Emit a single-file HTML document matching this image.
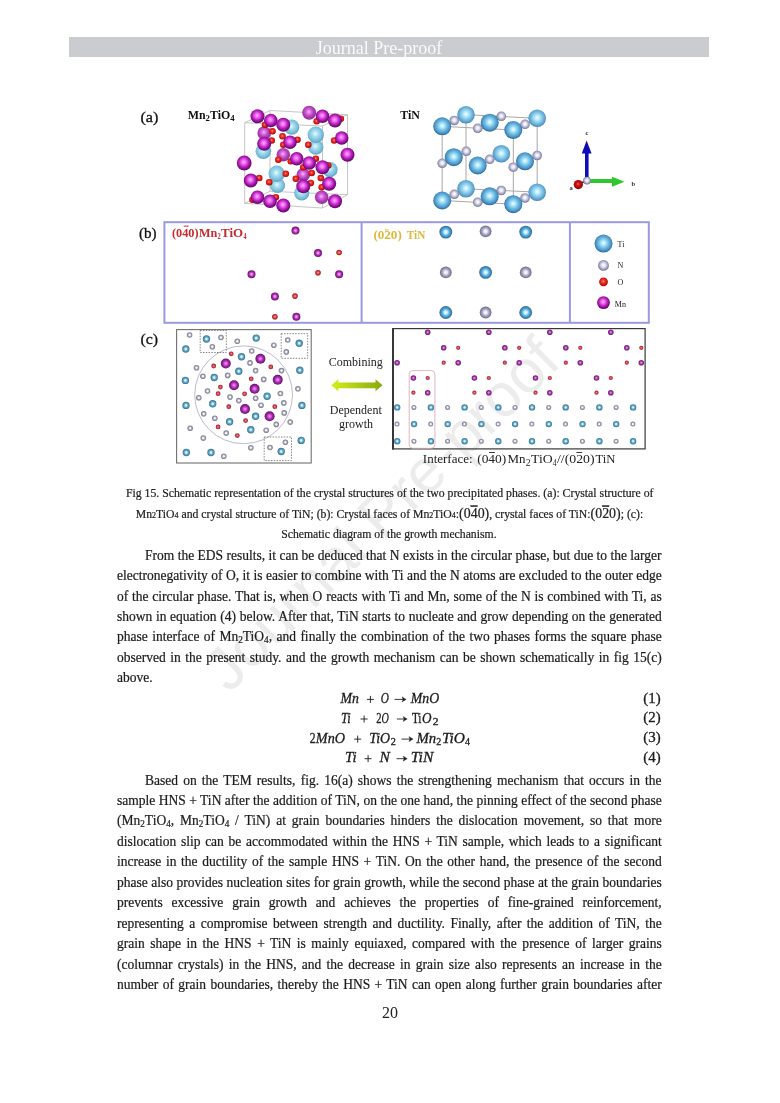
<!DOCTYPE html>
<html><head><meta charset="utf-8"><style>
*{margin:0;padding:0;box-sizing:border-box}
html,body{width:780px;height:1103px;background:#fff;overflow:hidden}
body{position:relative;-webkit-font-smoothing:antialiased;font-family:"Liberation Serif",serif;color:#1a1a1a}
.hdr{position:absolute;left:69px;top:37px;width:640px;height:20px;background:#cbcccf}
.hdr span{position:absolute;left:-20px;right:0;top:0.7px;text-align:center;font-size:18px;line-height:20px;color:#fafafa}
.l{position:absolute;transform:scaleX(0.952);transform-origin:0 0;font-size:14.2px;line-height:20px;height:20px;white-space:nowrap;letter-spacing:0px;color:#1c1c1c;-webkit-text-stroke:0.22px #1c1c1c}
sub{font-size:0.68em;vertical-align:-0.22em;line-height:0}
.wm{position:absolute;left:0;top:0;font-size:67px;line-height:67px;color:#ececec;white-space:nowrap;transform-origin:0 0}
#pg{position:absolute;left:0;top:0;width:780px;height:1103px;will-change:transform;background:#fff}
</style></head><body><div id="pg">
<svg style="position:absolute;left:0;top:0" width="780" height="1103"><text x="229" y="694" transform="rotate(-44.7 229 694)" font-family="Liberation Sans" font-size="60.8" fill="#ececec">Journal Pre-proof</text></svg>
<div class="hdr"><span>Journal Pre-proof</span></div>
<svg style="position:absolute;left:0;top:0" width="780" height="480" viewBox="0 0 780 480" font-family="Liberation Serif"><defs><radialGradient id="gMn" cx="47%" cy="44%" r="58%" fx="47%" fy="44%"><stop offset="0" stop-color="#ffb0ff"/><stop offset="0.28" stop-color="#f064f0"/><stop offset="0.58" stop-color="#b420b8"/><stop offset="0.86" stop-color="#720a7a"/><stop offset="1" stop-color="#500860"/></radialGradient><radialGradient id="gMnL" cx="47%" cy="44%" r="58%" fx="47%" fy="44%"><stop offset="0" stop-color="#ffb8ff"/><stop offset="0.25" stop-color="#e070e4"/><stop offset="0.6" stop-color="#b040b8"/><stop offset="1" stop-color="#883094"/></radialGradient><radialGradient id="gTiA" cx="47%" cy="44%" r="58%" fx="47%" fy="44%"><stop offset="0" stop-color="#e8ffff"/><stop offset="0.3" stop-color="#a8e0f0"/><stop offset="0.75" stop-color="#78bcd8"/><stop offset="1" stop-color="#5a9cbc"/></radialGradient><radialGradient id="gTi" cx="50%" cy="47%" r="53%" fx="50%" fy="47%"><stop offset="0" stop-color="#f0ffff"/><stop offset="0.2" stop-color="#b8ecfa"/><stop offset="0.55" stop-color="#6cb8e0"/><stop offset="0.8" stop-color="#4a94c8"/><stop offset="0.93" stop-color="#3472a6"/><stop offset="1" stop-color="#2a6494"/></radialGradient><radialGradient id="gTiL" cx="50%" cy="47%" r="53%" fx="50%" fy="47%"><stop offset="0" stop-color="#f4ffff"/><stop offset="0.22" stop-color="#c0eefa"/><stop offset="0.6" stop-color="#7cc0e4"/><stop offset="0.85" stop-color="#5aa0cc"/><stop offset="1" stop-color="#4482b0"/></radialGradient><radialGradient id="gO" cx="47%" cy="44%" r="58%" fx="47%" fy="44%"><stop offset="0" stop-color="#ff9a8a"/><stop offset="0.3" stop-color="#f43828"/><stop offset="0.75" stop-color="#cc1010"/><stop offset="1" stop-color="#900404"/></radialGradient><radialGradient id="gN" cx="50%" cy="47%" r="53%" fx="50%" fy="47%"><stop offset="0" stop-color="#ffffff"/><stop offset="0.3" stop-color="#eaeaf6"/><stop offset="0.6" stop-color="#b8b8d2"/><stop offset="0.85" stop-color="#8c8cac"/><stop offset="1" stop-color="#6c6c8e"/></radialGradient><radialGradient id="rMn" cx="50%" cy="50%" r="50%" fx="50%" fy="50%"><stop offset="0" stop-color="#ff98ff"/><stop offset="0.28" stop-color="#dc5ce0"/><stop offset="0.58" stop-color="#a02ca8"/><stop offset="0.85" stop-color="#781a80"/><stop offset="1" stop-color="#5e1266"/></radialGradient><radialGradient id="rO" cx="50%" cy="50%" r="50%" fx="50%" fy="50%"><stop offset="0" stop-color="#f29a9a"/><stop offset="0.35" stop-color="#d85462"/><stop offset="0.7" stop-color="#bc3242"/><stop offset="1" stop-color="#962030"/></radialGradient><radialGradient id="rTi" cx="50%" cy="50%" r="50%" fx="50%" fy="50%"><stop offset="0" stop-color="#eeffff"/><stop offset="0.25" stop-color="#bcedf8"/><stop offset="0.47" stop-color="#74b2ca"/><stop offset="0.8" stop-color="#4a88a8"/><stop offset="1" stop-color="#3a7494"/></radialGradient><radialGradient id="rN" cx="50%" cy="50%" r="50%" fx="50%" fy="50%"><stop offset="0" stop-color="#ffffff"/><stop offset="0.28" stop-color="#f4f4f8"/><stop offset="0.5" stop-color="#b0b0bc"/><stop offset="0.8" stop-color="#8c8c9e"/><stop offset="1" stop-color="#7c7c8e"/></radialGradient><radialGradient id="cMn" cx="50%" cy="50%" r="50%" fx="50%" fy="50%"><stop offset="0" stop-color="#f0a8f0"/><stop offset="0.3" stop-color="#c866cc"/><stop offset="0.6" stop-color="#943098"/><stop offset="1" stop-color="#6c1e74"/></radialGradient><radialGradient id="bMn" cx="50%" cy="50%" r="50%" fx="50%" fy="50%"><stop offset="0" stop-color="#ffc0ff"/><stop offset="0.3" stop-color="#e070e0"/><stop offset="0.6" stop-color="#a828ac"/><stop offset="1" stop-color="#6a1470"/></radialGradient><radialGradient id="bO" cx="50%" cy="50%" r="50%" fx="50%" fy="50%"><stop offset="0" stop-color="#ffb0a8"/><stop offset="0.35" stop-color="#ec5a5a"/><stop offset="0.7" stop-color="#c82a2a"/><stop offset="1" stop-color="#901818"/></radialGradient><radialGradient id="bTi" cx="50%" cy="50%" r="50%" fx="50%" fy="50%"><stop offset="0" stop-color="#ffffff"/><stop offset="0.25" stop-color="#bff0ff"/><stop offset="0.55" stop-color="#5eaedc"/><stop offset="0.85" stop-color="#3a80b0"/><stop offset="1" stop-color="#2c6c98"/></radialGradient><radialGradient id="bN" cx="50%" cy="50%" r="50%" fx="50%" fy="50%"><stop offset="0" stop-color="#ffffff"/><stop offset="0.25" stop-color="#ececf8"/><stop offset="0.55" stop-color="#acacc6"/><stop offset="0.85" stop-color="#80809e"/><stop offset="1" stop-color="#6c6c8a"/></radialGradient><radialGradient id="gOd" cx="47%" cy="44%" r="58%" fx="47%" fy="44%"><stop offset="0" stop-color="#f06060"/><stop offset="0.3" stop-color="#d01818"/><stop offset="0.75" stop-color="#a80404"/><stop offset="1" stop-color="#700000"/></radialGradient><linearGradient id="gArr" x1="0" y1="0" x2="1" y2="0"><stop offset="0" stop-color="#d4f01a"/><stop offset="1" stop-color="#86a810"/></linearGradient></defs><polygon points="270.0,110.5 347.5,114.7 347.5,194.7 270.0,191.3" stroke="#b8b8b8" stroke-width="0.8" fill="none"/>
<line x1="244.7" y1="122.7" x2="270.0" y2="110.5" stroke="#b8b8b8" stroke-width="0.8" fill="none"/>
<line x1="322.5" y1="126.0" x2="347.5" y2="114.7" stroke="#b8b8b8" stroke-width="0.8" fill="none"/>
<line x1="322.5" y1="208.0" x2="347.5" y2="194.7" stroke="#b8b8b8" stroke-width="0.8" fill="none"/>
<line x1="244.7" y1="203.3" x2="270.0" y2="191.3" stroke="#b8b8b8" stroke-width="0.8" fill="none"/>
<polygon points="244.7,122.7 322.5,126.0 322.5,208.0 244.7,203.3" stroke="#b8b8b8" stroke-width="0.8" fill="none"/>
<circle cx="264.2" cy="133.0" r="6.8" fill="url(#gMnL)" />
<circle cx="283.3" cy="154.7" r="6.8" fill="url(#gMnL)" />
<circle cx="309.2" cy="112.7" r="7.0" fill="url(#gMnL)" />
<circle cx="303.3" cy="174.7" r="6.8" fill="url(#gMnL)" />
<circle cx="321.7" cy="197.2" r="6.8" fill="url(#gMnL)" />
<circle cx="291.7" cy="127.2" r="7.6" fill="url(#gTiA)" />
<circle cx="315.8" cy="147.2" r="7.6" fill="url(#gTiA)" />
<circle cx="315.8" cy="134.7" r="8.2" fill="url(#gTiA)" />
<circle cx="263.3" cy="151.3" r="7.8" fill="url(#gTiA)" />
<circle cx="277.5" cy="185.5" r="7.6" fill="url(#gTiA)" />
<circle cx="276.7" cy="173.8" r="8.2" fill="url(#gTiA)" />
<circle cx="330.0" cy="169.7" r="7.6" fill="url(#gTiA)" />
<circle cx="301.7" cy="193.0" r="7.6" fill="url(#gTiA)" />
<circle cx="265.0" cy="124.7" r="3.3" fill="url(#gO)" />
<circle cx="272.5" cy="131.3" r="3.3" fill="url(#gO)" />
<circle cx="271.7" cy="140.5" r="3.3" fill="url(#gO)" />
<circle cx="282.5" cy="136.3" r="3.3" fill="url(#gO)" />
<circle cx="283.3" cy="144.7" r="3.3" fill="url(#gO)" />
<circle cx="297.5" cy="139.7" r="3.3" fill="url(#gO)" />
<circle cx="308.3" cy="144.7" r="3.3" fill="url(#gO)" />
<circle cx="316.7" cy="121.3" r="3.3" fill="url(#gO)" />
<circle cx="340.8" cy="118.8" r="3.3" fill="url(#gO)" />
<circle cx="334.2" cy="140.5" r="3.3" fill="url(#gO)" />
<circle cx="278.3" cy="159.7" r="3.3" fill="url(#gO)" />
<circle cx="290.8" cy="161.3" r="3.3" fill="url(#gO)" />
<circle cx="303.3" cy="167.2" r="3.3" fill="url(#gO)" />
<circle cx="315.8" cy="158.8" r="3.3" fill="url(#gO)" />
<circle cx="328.3" cy="165.5" r="3.3" fill="url(#gO)" />
<circle cx="259.2" cy="178.0" r="3.3" fill="url(#gO)" />
<circle cx="269.2" cy="182.2" r="3.3" fill="url(#gO)" />
<circle cx="295.8" cy="178.8" r="3.3" fill="url(#gO)" />
<circle cx="310.8" cy="183.0" r="3.3" fill="url(#gO)" />
<circle cx="321.7" cy="187.2" r="3.3" fill="url(#gO)" />
<circle cx="320.8" cy="178.0" r="3.3" fill="url(#gO)" />
<circle cx="252.5" cy="199.7" r="3.3" fill="url(#gO)" />
<circle cx="275.8" cy="197.2" r="3.3" fill="url(#gO)" />
<circle cx="285.8" cy="173.8" r="3.3" fill="url(#gO)" />
<circle cx="311.7" cy="173.0" r="3.3" fill="url(#gO)" />
<circle cx="257.5" cy="116.3" r="7.0" fill="url(#gMn)" />
<circle cx="270.8" cy="120.5" r="6.8" fill="url(#gMn)" />
<circle cx="283.3" cy="124.7" r="7.0" fill="url(#gMn)" />
<circle cx="322.5" cy="116.3" r="6.8" fill="url(#gMn)" />
<circle cx="335.0" cy="120.5" r="7.0" fill="url(#gMn)" />
<circle cx="264.2" cy="143.8" r="7.0" fill="url(#gMn)" />
<circle cx="290.0" cy="142.2" r="6.8" fill="url(#gMn)" />
<circle cx="244.2" cy="163.0" r="7.4" fill="url(#gMn)" />
<circle cx="296.7" cy="158.8" r="6.8" fill="url(#gMn)" />
<circle cx="309.2" cy="163.0" r="6.8" fill="url(#gMn)" />
<circle cx="322.5" cy="167.2" r="7.0" fill="url(#gMn)" />
<circle cx="250.8" cy="180.5" r="7.0" fill="url(#gMn)" />
<circle cx="303.3" cy="186.3" r="7.0" fill="url(#gMn)" />
<circle cx="329.2" cy="183.8" r="7.0" fill="url(#gMn)" />
<circle cx="257.5" cy="197.2" r="6.8" fill="url(#gMn)" />
<circle cx="270.0" cy="201.3" r="6.8" fill="url(#gMn)" />
<circle cx="283.3" cy="205.5" r="7.0" fill="url(#gMn)" />
<circle cx="335.0" cy="201.3" r="7.0" fill="url(#gMn)" />
<circle cx="341.7" cy="138.0" r="6.8" fill="url(#gMn)" />
<circle cx="347.5" cy="154.7" r="7.0" fill="url(#gMn)" />
<polygon points="466.0,114.66666666666667 537.1666666666666,118.33333333333333 537.1666666666666,192.16666666666669 466.0,188.83333333333331" stroke="#a8a8a8" stroke-width="1" fill="none"/>
<line x1="442.2" y1="126.3" x2="466.0" y2="114.7" stroke="#a8a8a8" stroke-width="1" fill="none"/>
<line x1="513.3" y1="130.0" x2="537.2" y2="118.3" stroke="#a8a8a8" stroke-width="1" fill="none"/>
<line x1="513.3" y1="204.2" x2="537.2" y2="192.2" stroke="#a8a8a8" stroke-width="1" fill="none"/>
<line x1="442.2" y1="200.5" x2="466.0" y2="188.8" stroke="#a8a8a8" stroke-width="1" fill="none"/>
<polygon points="442.1666666666667,126.33333333333333 513.3333333333334,130.0 513.3333333333334,204.16666666666669 442.1666666666667,200.5" stroke="#a8a8a8" stroke-width="1" fill="none"/>
<circle cx="466.0" cy="114.7" r="8.8" fill="url(#gTiL)" />
<circle cx="537.2" cy="118.3" r="8.8" fill="url(#gTiL)" />
<circle cx="501.3" cy="153.8" r="8.8" fill="url(#gTiL)" />
<circle cx="466.0" cy="188.8" r="8.8" fill="url(#gTiL)" />
<circle cx="537.2" cy="192.2" r="8.8" fill="url(#gTiL)" />
<circle cx="454.3" cy="120.5" r="4.8" fill="url(#gN)" />
<circle cx="477.7" cy="128.3" r="4.8" fill="url(#gN)" />
<circle cx="501.3" cy="116.3" r="4.8" fill="url(#gN)" />
<circle cx="525.0" cy="124.3" r="4.8" fill="url(#gN)" />
<circle cx="466.3" cy="151.3" r="4.8" fill="url(#gN)" />
<circle cx="442.2" cy="163.3" r="4.8" fill="url(#gN)" />
<circle cx="489.7" cy="159.3" r="4.8" fill="url(#gN)" />
<circle cx="513.3" cy="167.2" r="4.8" fill="url(#gN)" />
<circle cx="537.2" cy="155.5" r="4.8" fill="url(#gN)" />
<circle cx="454.3" cy="194.3" r="4.8" fill="url(#gN)" />
<circle cx="477.7" cy="202.2" r="4.8" fill="url(#gN)" />
<circle cx="501.3" cy="190.5" r="4.8" fill="url(#gN)" />
<circle cx="525.0" cy="198.0" r="4.8" fill="url(#gN)" />
<circle cx="442.2" cy="126.3" r="9.0" fill="url(#gTi)" />
<circle cx="489.7" cy="122.7" r="9.0" fill="url(#gTi)" />
<circle cx="513.3" cy="130.0" r="9.0" fill="url(#gTi)" />
<circle cx="453.8" cy="157.2" r="9.0" fill="url(#gTi)" />
<circle cx="477.7" cy="165.5" r="9.0" fill="url(#gTi)" />
<circle cx="525.0" cy="161.3" r="9.0" fill="url(#gTi)" />
<circle cx="442.2" cy="200.5" r="9.0" fill="url(#gTi)" />
<circle cx="489.7" cy="196.3" r="9.0" fill="url(#gTi)" />
<circle cx="513.3" cy="204.2" r="9.0" fill="url(#gTi)" />
<line x1="586.8" y1="178" x2="586.8" y2="152" stroke="#0c0cb8" stroke-width="3.6"/>
<polygon points="586.6,140.5 581.8,153.6 591.6,153.6" fill="#0c0cb8"/>
<line x1="589" y1="181" x2="613" y2="181" stroke="#2ec82e" stroke-width="4"/>
<polygon points="624.5,181.8 612,176.8 612,186.8" fill="#2ec82e"/>
<line x1="579" y1="184" x2="586" y2="181" stroke="#901010" stroke-width="1.6"/>
<circle cx="587.0" cy="180.6" r="3.9" fill="url(#gN)" />
<circle cx="578.3" cy="184.6" r="4.6" fill="url(#gOd)" />
<text x="585.4" y="134.6" font-size="6.5" font-weight="bold" fill="#333">c</text>
<text x="631.4" y="185.6" font-size="6.5" font-weight="bold" fill="#333">b</text>
<text x="569.4" y="190.4" font-size="6.5" font-weight="bold" fill="#333">a</text><rect x="164.4" y="222.2" width="484.4" height="100.6" stroke="#9a9ae0" stroke-width="2" fill="none"/>
<line x1="361.6" y1="222.2" x2="361.6" y2="322.8" stroke="#9a9ae0" stroke-width="2" fill="none"/>
<line x1="569.9" y1="222.2" x2="569.9" y2="322.8" stroke="#9a9ae0" stroke-width="2" fill="none"/>
<circle cx="295.5" cy="230.6" r="4.0" fill="url(#bMn)" />
<circle cx="318.0" cy="253.0" r="4.0" fill="url(#bMn)" />
<circle cx="251.5" cy="274.2" r="4.0" fill="url(#bMn)" />
<circle cx="339.1" cy="274.2" r="4.0" fill="url(#bMn)" />
<circle cx="274.9" cy="296.4" r="4.0" fill="url(#bMn)" />
<circle cx="296.4" cy="316.7" r="4.0" fill="url(#bMn)" />
<circle cx="339.1" cy="252.5" r="2.8" fill="url(#bO)" />
<circle cx="318.0" cy="272.7" r="2.8" fill="url(#bO)" />
<circle cx="295.0" cy="296.1" r="2.8" fill="url(#bO)" />
<circle cx="274.9" cy="316.7" r="2.8" fill="url(#bO)" />
<circle cx="445.8" cy="232.1" r="6.4" fill="url(#bTi)" />
<circle cx="525.7" cy="232.1" r="6.4" fill="url(#bTi)" />
<circle cx="485.6" cy="272.4" r="6.4" fill="url(#bTi)" />
<circle cx="445.8" cy="312.5" r="6.4" fill="url(#bTi)" />
<circle cx="525.7" cy="312.5" r="6.4" fill="url(#bTi)" />
<circle cx="485.6" cy="231.3" r="5.9" fill="url(#bN)" />
<circle cx="445.8" cy="272.4" r="5.9" fill="url(#bN)" />
<circle cx="525.7" cy="272.4" r="5.9" fill="url(#bN)" />
<circle cx="485.6" cy="312.5" r="5.9" fill="url(#bN)" />
<circle cx="603.5" cy="243.6" r="9.0" fill="url(#gTi)" />
<circle cx="603.5" cy="265.4" r="5.4" fill="url(#gN)" />
<circle cx="603.5" cy="281.8" r="4.4" fill="url(#gO)" />
<circle cx="603.5" cy="302.6" r="6.4" fill="url(#gMn)" />
<text x="617.6" y="246.8" font-size="8" fill="#222">Ti</text>
<text x="617.4" y="268.3" font-size="8" fill="#222">N</text>
<text x="617.4" y="284.7" font-size="8" fill="#222">O</text>
<text x="614.8" y="306.5" font-size="8" fill="#222">Mn</text>
<text x="172.0" y="236.6" font-size="11.8" textLength="26.60" lengthAdjust="spacingAndGlyphs" font-weight="bold" fill="#c42a30">(040)</text>
<text x="199.0" y="236.6" font-size="11.8" textLength="18.30" lengthAdjust="spacingAndGlyphs" font-weight="bold" fill="#c42a30">Mn</text>
<text x="217.5" y="238.8" font-size="8.5" textLength="3.20" lengthAdjust="spacingAndGlyphs" font-weight="bold" fill="#c42a30">2</text>
<text x="221.1" y="236.6" font-size="11.8" textLength="22.10" lengthAdjust="spacingAndGlyphs" font-weight="bold" fill="#c42a30">TiO</text>
<text x="243.4" y="238.8" font-size="8.5" textLength="3.00" lengthAdjust="spacingAndGlyphs" font-weight="bold" fill="#c42a30">4</text>
<path d="M183.8 226.1H188.6" stroke="#c42a30" stroke-width="1"/>
<text x="373.4" y="239.0" font-size="12" textLength="28.40" lengthAdjust="spacingAndGlyphs" font-weight="bold" fill="#dcb840">(020)</text>
<text x="406.8" y="239.0" font-size="12" textLength="18.50" lengthAdjust="spacingAndGlyphs" font-weight="bold" fill="#dcb840">TiN</text>
<path d="M385.0 229.9H388.4" stroke="#dcb840" stroke-width="1"/><rect x="176.6" y="329.6" width="134.6" height="133.4" fill="none" stroke="#707070" stroke-width="1.1"/>
<circle cx="243.6" cy="394.8" r="48.9" fill="none" stroke="#b2b4c2" stroke-width="0.9"/>
<rect x="200.2" y="330.4" width="26.1" height="22.1" fill="none" stroke="#666" stroke-width="0.8" stroke-dasharray="1.5,1.3"/>
<rect x="281.2" y="333.7" width="26.5" height="24.6" fill="none" stroke="#666" stroke-width="0.8" stroke-dasharray="1.5,1.3"/>
<rect x="264.2" y="437" width="27.3" height="23.6" fill="none" stroke="#666" stroke-width="0.8" stroke-dasharray="1.5,1.3"/>
<circle cx="189.6" cy="335.0" r="2.8" fill="url(#rN)" />
<circle cx="221.0" cy="337.5" r="2.8" fill="url(#rN)" />
<circle cx="212.3" cy="346.7" r="2.8" fill="url(#rN)" />
<circle cx="237.3" cy="341.3" r="2.8" fill="url(#rN)" />
<circle cx="273.8" cy="345.2" r="2.8" fill="url(#rN)" />
<circle cx="287.7" cy="340.0" r="2.8" fill="url(#rN)" />
<circle cx="286.3" cy="351.9" r="2.8" fill="url(#rN)" />
<circle cx="251.7" cy="351.0" r="2.8" fill="url(#rN)" />
<circle cx="196.5" cy="367.7" r="2.8" fill="url(#rN)" />
<circle cx="250.0" cy="362.9" r="2.8" fill="url(#rN)" />
<circle cx="255.6" cy="370.6" r="2.8" fill="url(#rN)" />
<circle cx="281.5" cy="370.6" r="2.8" fill="url(#rN)" />
<circle cx="202.9" cy="376.3" r="2.8" fill="url(#rN)" />
<circle cx="227.7" cy="375.4" r="2.8" fill="url(#rN)" />
<circle cx="263.7" cy="379.4" r="2.8" fill="url(#rN)" />
<circle cx="297.9" cy="388.8" r="2.8" fill="url(#rN)" />
<circle cx="207.5" cy="391.0" r="2.8" fill="url(#rN)" />
<circle cx="198.8" cy="397.7" r="2.8" fill="url(#rN)" />
<circle cx="230.0" cy="397.1" r="2.8" fill="url(#rN)" />
<circle cx="238.8" cy="400.6" r="2.8" fill="url(#rN)" />
<circle cx="255.6" cy="398.3" r="2.8" fill="url(#rN)" />
<circle cx="280.4" cy="393.5" r="2.8" fill="url(#rN)" />
<circle cx="283.8" cy="402.9" r="2.8" fill="url(#rN)" />
<circle cx="261.0" cy="405.2" r="2.8" fill="url(#rN)" />
<circle cx="203.7" cy="413.8" r="2.8" fill="url(#rN)" />
<circle cx="214.8" cy="418.3" r="2.8" fill="url(#rN)" />
<circle cx="284.2" cy="412.9" r="2.8" fill="url(#rN)" />
<circle cx="290.2" cy="422.1" r="2.8" fill="url(#rN)" />
<circle cx="276.3" cy="424.4" r="2.8" fill="url(#rN)" />
<circle cx="190.2" cy="428.3" r="2.8" fill="url(#rN)" />
<circle cx="226.2" cy="433.1" r="2.8" fill="url(#rN)" />
<circle cx="266.2" cy="430.2" r="2.8" fill="url(#rN)" />
<circle cx="203.3" cy="438.1" r="2.8" fill="url(#rN)" />
<circle cx="285.4" cy="442.3" r="2.8" fill="url(#rN)" />
<circle cx="270.0" cy="447.5" r="2.8" fill="url(#rN)" />
<circle cx="250.8" cy="447.7" r="2.8" fill="url(#rN)" />
<circle cx="223.8" cy="456.3" r="2.8" fill="url(#rN)" />
<circle cx="206.5" cy="339.0" r="3.7" fill="url(#rTi)" />
<circle cx="256.2" cy="338.1" r="3.7" fill="url(#rTi)" />
<circle cx="299.2" cy="343.3" r="3.7" fill="url(#rTi)" />
<circle cx="185.8" cy="349.0" r="3.7" fill="url(#rTi)" />
<circle cx="241.5" cy="356.7" r="3.7" fill="url(#rTi)" />
<circle cx="238.8" cy="371.2" r="3.7" fill="url(#rTi)" />
<circle cx="299.8" cy="370.2" r="3.7" fill="url(#rTi)" />
<circle cx="214.2" cy="377.5" r="3.7" fill="url(#rTi)" />
<circle cx="185.4" cy="380.4" r="3.7" fill="url(#rTi)" />
<circle cx="267.1" cy="396.2" r="3.7" fill="url(#rTi)" />
<circle cx="212.7" cy="403.8" r="3.7" fill="url(#rTi)" />
<circle cx="186.0" cy="405.4" r="3.7" fill="url(#rTi)" />
<circle cx="301.9" cy="405.4" r="3.7" fill="url(#rTi)" />
<circle cx="255.6" cy="416.3" r="3.7" fill="url(#rTi)" />
<circle cx="229.6" cy="421.7" r="3.7" fill="url(#rTi)" />
<circle cx="250.8" cy="429.8" r="3.7" fill="url(#rTi)" />
<circle cx="301.2" cy="440.4" r="3.7" fill="url(#rTi)" />
<circle cx="186.3" cy="452.5" r="3.7" fill="url(#rTi)" />
<circle cx="211.0" cy="452.5" r="3.7" fill="url(#rTi)" />
<circle cx="281.2" cy="451.5" r="3.7" fill="url(#rTi)" />
<circle cx="231.2" cy="353.8" r="2.4" fill="url(#rO)" />
<circle cx="213.7" cy="366.0" r="2.4" fill="url(#rO)" />
<circle cx="270.8" cy="366.9" r="2.4" fill="url(#rO)" />
<circle cx="251.2" cy="378.8" r="2.4" fill="url(#rO)" />
<circle cx="220.4" cy="387.1" r="2.4" fill="url(#rO)" />
<circle cx="218.1" cy="393.7" r="2.4" fill="url(#rO)" />
<circle cx="244.6" cy="393.8" r="2.4" fill="url(#rO)" />
<circle cx="228.8" cy="406.7" r="2.4" fill="url(#rO)" />
<circle cx="274.8" cy="406.7" r="2.4" fill="url(#rO)" />
<circle cx="245.6" cy="420.6" r="2.4" fill="url(#rO)" />
<circle cx="218.1" cy="426.9" r="2.4" fill="url(#rO)" />
<circle cx="237.3" cy="435.6" r="2.4" fill="url(#rO)" />
<circle cx="225.8" cy="363.5" r="5.0" fill="url(#rMn)" />
<circle cx="260.4" cy="358.7" r="5.0" fill="url(#rMn)" />
<circle cx="277.7" cy="379.8" r="5.0" fill="url(#rMn)" />
<circle cx="234.0" cy="385.2" r="5.0" fill="url(#rMn)" />
<circle cx="254.6" cy="388.8" r="5.0" fill="url(#rMn)" />
<circle cx="245.0" cy="409.0" r="5.0" fill="url(#rMn)" />
<circle cx="269.6" cy="416.3" r="5.0" fill="url(#rMn)" />
<text x="355.8" y="365.9" font-size="12" text-anchor="middle" fill="#222">Combining</text>
<polygon points="331.3,385.2 338.3,379.2 338.3,382.4 375.5,382.4 375.5,379.2 382.5,385.2 375.5,391.2 375.5,388.2 338.3,388.2 338.3,391.2" fill="url(#gArr)"/>
<text x="355.8" y="413.8" font-size="12" text-anchor="middle" fill="#222">Dependent</text>
<text x="356.1" y="428.0" font-size="12" text-anchor="middle" fill="#222">growth</text>
<rect x="392.6" y="328.6" width="252.5" height="120.3" fill="none" stroke="#383838" stroke-width="1.2"/>
<line x1="393.0" y1="328.0" x2="393.0" y2="449.5" stroke="#383838" stroke-width="2"/>
<rect x="409.2" y="370.6" width="25.7" height="77.7" rx="3.5" fill="none" stroke="#dcaab2" stroke-width="0.85"/>
<circle cx="427.7" cy="332.2" r="2.8" fill="url(#cMn)" />
<circle cx="488.8" cy="332.2" r="2.8" fill="url(#cMn)" />
<circle cx="549.8" cy="332.2" r="2.8" fill="url(#cMn)" />
<circle cx="610.8" cy="332.2" r="2.8" fill="url(#cMn)" />
<circle cx="443.7" cy="347.8" r="2.8" fill="url(#cMn)" />
<circle cx="504.8" cy="347.8" r="2.8" fill="url(#cMn)" />
<circle cx="565.8" cy="347.8" r="2.8" fill="url(#cMn)" />
<circle cx="626.8" cy="347.8" r="2.8" fill="url(#cMn)" />
<circle cx="458.2" cy="347.8" r="2.1" fill="url(#rO)" />
<circle cx="519.2" cy="347.8" r="2.1" fill="url(#rO)" />
<circle cx="580.3" cy="347.8" r="2.1" fill="url(#rO)" />
<circle cx="641.3" cy="347.8" r="2.1" fill="url(#rO)" />
<circle cx="397.1" cy="362.7" r="2.8" fill="url(#cMn)" />
<circle cx="458.2" cy="362.7" r="2.8" fill="url(#cMn)" />
<circle cx="519.2" cy="362.7" r="2.8" fill="url(#cMn)" />
<circle cx="580.3" cy="362.7" r="2.8" fill="url(#cMn)" />
<circle cx="641.3" cy="362.7" r="2.8" fill="url(#cMn)" />
<circle cx="443.7" cy="362.7" r="2.1" fill="url(#rO)" />
<circle cx="504.8" cy="362.7" r="2.1" fill="url(#rO)" />
<circle cx="565.8" cy="362.7" r="2.1" fill="url(#rO)" />
<circle cx="626.8" cy="362.7" r="2.1" fill="url(#rO)" />
<circle cx="413.4" cy="378.0" r="2.8" fill="url(#cMn)" />
<circle cx="474.4" cy="378.0" r="2.8" fill="url(#cMn)" />
<circle cx="535.5" cy="378.0" r="2.8" fill="url(#cMn)" />
<circle cx="596.5" cy="378.0" r="2.8" fill="url(#cMn)" />
<circle cx="427.7" cy="378.0" r="2.1" fill="url(#rO)" />
<circle cx="488.8" cy="378.0" r="2.1" fill="url(#rO)" />
<circle cx="549.8" cy="378.0" r="2.1" fill="url(#rO)" />
<circle cx="610.8" cy="378.0" r="2.1" fill="url(#rO)" />
<circle cx="427.7" cy="392.7" r="2.8" fill="url(#cMn)" />
<circle cx="488.8" cy="392.7" r="2.8" fill="url(#cMn)" />
<circle cx="549.8" cy="392.7" r="2.8" fill="url(#cMn)" />
<circle cx="610.8" cy="392.7" r="2.8" fill="url(#cMn)" />
<circle cx="413.4" cy="392.7" r="2.1" fill="url(#rO)" />
<circle cx="474.4" cy="392.7" r="2.1" fill="url(#rO)" />
<circle cx="535.5" cy="392.7" r="2.1" fill="url(#rO)" />
<circle cx="596.5" cy="392.7" r="2.1" fill="url(#rO)" />
<circle cx="397.2" cy="407.4" r="3.2" fill="url(#rTi)" />
<circle cx="430.9" cy="407.4" r="3.2" fill="url(#rTi)" />
<circle cx="464.6" cy="407.4" r="3.2" fill="url(#rTi)" />
<circle cx="498.3" cy="407.4" r="3.2" fill="url(#rTi)" />
<circle cx="532.0" cy="407.4" r="3.2" fill="url(#rTi)" />
<circle cx="565.7" cy="407.4" r="3.2" fill="url(#rTi)" />
<circle cx="599.4" cy="407.4" r="3.2" fill="url(#rTi)" />
<circle cx="633.1" cy="407.4" r="3.2" fill="url(#rTi)" />
<circle cx="413.9" cy="407.4" r="2.5" fill="url(#rN)" />
<circle cx="447.6" cy="407.4" r="2.5" fill="url(#rN)" />
<circle cx="481.3" cy="407.4" r="2.5" fill="url(#rN)" />
<circle cx="515.0" cy="407.4" r="2.5" fill="url(#rN)" />
<circle cx="548.7" cy="407.4" r="2.5" fill="url(#rN)" />
<circle cx="582.4" cy="407.4" r="2.5" fill="url(#rN)" />
<circle cx="616.1" cy="407.4" r="2.5" fill="url(#rN)" />
<circle cx="414.0" cy="424.1" r="3.2" fill="url(#rTi)" />
<circle cx="447.7" cy="424.1" r="3.2" fill="url(#rTi)" />
<circle cx="481.4" cy="424.1" r="3.2" fill="url(#rTi)" />
<circle cx="515.1" cy="424.1" r="3.2" fill="url(#rTi)" />
<circle cx="548.8" cy="424.1" r="3.2" fill="url(#rTi)" />
<circle cx="582.5" cy="424.1" r="3.2" fill="url(#rTi)" />
<circle cx="616.2" cy="424.1" r="3.2" fill="url(#rTi)" />
<circle cx="397.0" cy="424.1" r="2.5" fill="url(#rN)" />
<circle cx="430.7" cy="424.1" r="2.5" fill="url(#rN)" />
<circle cx="464.4" cy="424.1" r="2.5" fill="url(#rN)" />
<circle cx="498.1" cy="424.1" r="2.5" fill="url(#rN)" />
<circle cx="531.8" cy="424.1" r="2.5" fill="url(#rN)" />
<circle cx="565.5" cy="424.1" r="2.5" fill="url(#rN)" />
<circle cx="599.2" cy="424.1" r="2.5" fill="url(#rN)" />
<circle cx="632.9" cy="424.1" r="2.5" fill="url(#rN)" />
<circle cx="397.2" cy="441.2" r="3.2" fill="url(#rTi)" />
<circle cx="430.9" cy="441.2" r="3.2" fill="url(#rTi)" />
<circle cx="464.6" cy="441.2" r="3.2" fill="url(#rTi)" />
<circle cx="498.3" cy="441.2" r="3.2" fill="url(#rTi)" />
<circle cx="532.0" cy="441.2" r="3.2" fill="url(#rTi)" />
<circle cx="565.7" cy="441.2" r="3.2" fill="url(#rTi)" />
<circle cx="599.4" cy="441.2" r="3.2" fill="url(#rTi)" />
<circle cx="633.1" cy="441.2" r="3.2" fill="url(#rTi)" />
<circle cx="413.9" cy="441.2" r="2.5" fill="url(#rN)" />
<circle cx="447.6" cy="441.2" r="2.5" fill="url(#rN)" />
<circle cx="481.3" cy="441.2" r="2.5" fill="url(#rN)" />
<circle cx="515.0" cy="441.2" r="2.5" fill="url(#rN)" />
<circle cx="548.7" cy="441.2" r="2.5" fill="url(#rN)" />
<circle cx="582.4" cy="441.2" r="2.5" fill="url(#rN)" />
<circle cx="616.1" cy="441.2" r="2.5" fill="url(#rN)" />
<text x="422.8" y="463.0" font-size="13.4" textLength="49.80" lengthAdjust="spacingAndGlyphs" fill="#222">Interface:</text>
<text x="477.2" y="463.0" font-size="13.4" textLength="29.10" lengthAdjust="spacingAndGlyphs" fill="#222">(040)</text>
<text x="507.5" y="463.0" font-size="13.4" textLength="18.00" lengthAdjust="spacingAndGlyphs" fill="#222">Mn</text>
<text x="525.8" y="465.8" font-size="9.4" textLength="4.80" lengthAdjust="spacingAndGlyphs" fill="#222">2</text>
<text x="531.0" y="463.0" font-size="13.4" textLength="21.70" lengthAdjust="spacingAndGlyphs" fill="#222">TiO</text>
<text x="552.8" y="465.8" font-size="9.4" textLength="3.80" lengthAdjust="spacingAndGlyphs" fill="#222">4</text>
<text x="557.0" y="463.0" font-size="13.4" textLength="37.60" lengthAdjust="spacingAndGlyphs" fill="#222">//(020)</text>
<text x="595.5" y="463.0" font-size="13.4" textLength="20.00" lengthAdjust="spacingAndGlyphs" fill="#222">TiN</text>
<path d="M489.0 452.5H494.8M576.4 452.5H582.2" stroke="#222" stroke-width="0.9"/><text x="140.4" y="122.4" font-size="15.3" fill="#111" stroke="#111" stroke-width="0.3" textLength="18" lengthAdjust="spacingAndGlyphs">(a)</text>
<text x="139.0" y="238.0" font-size="15.3" fill="#111" stroke="#111" stroke-width="0.3" textLength="17.6" lengthAdjust="spacingAndGlyphs">(b)</text>
<text x="140.4" y="344.4" font-size="15.3" fill="#111" stroke="#111" stroke-width="0.3" textLength="17.6" lengthAdjust="spacingAndGlyphs">(c)</text>
<text x="187.7" y="118.8" font-size="11.6" font-weight="bold" fill="#111" textLength="46.9" lengthAdjust="spacingAndGlyphs">Mn<tspan font-size="8.5" dy="2.2">2</tspan><tspan dy="-2.2">TiO</tspan><tspan font-size="8.5" dy="2.2">4</tspan></text>
<text x="400.2" y="118.9" font-size="12" font-weight="bold" fill="#111" textLength="19.6" lengthAdjust="spacingAndGlyphs">TiN</text></svg>
<svg style="position:absolute;left:0;top:480px" width="780" height="70" viewBox="0 480 780 70" font-family="Liberation Serif" font-size="11.8" fill="#222" stroke="#222" stroke-width="0.2">
<text x="125.9" y="497.4" textLength="527.6" lengthAdjust="spacingAndGlyphs">Fig 15. Schematic representation of the crystal structures of the two precipitated phases. (a): Crystal structure of</text>
<text x="135.8" y="518.4" textLength="507.4" lengthAdjust="spacingAndGlyphs">Mn<tspan font-size="8">2</tspan>TiO<tspan font-size="8">4</tspan> and crystal structure of TiN; (b): Crystal faces of Mn<tspan font-size="8">2</tspan>TiO<tspan font-size="8">4</tspan>:<tspan font-size="14">(0<tspan text-decoration="overline">4</tspan>0)</tspan>, crystal faces of TiN:<tspan font-size="14">(0<tspan text-decoration="overline">2</tspan>0)</tspan>; (c):</text>
<text x="281.2" y="538.0" textLength="215.4" lengthAdjust="spacingAndGlyphs">Schematic diagram of the growth mechanism.</text>
</svg>
<div class="l" style="top:544.66px;left:145.40px;word-spacing:0.020px">From the EDS results, it can be deduced that N exists in the circular phase, but due to the larger</div>
<div class="l" style="top:565.16px;left:117.30px;word-spacing:0.088px">electronegativity of O, it is easier to combine with Ti and the N atoms are excluded to the outer edge</div>
<div class="l" style="top:585.56px;left:117.30px;word-spacing:0.407px">of the circular phase. That is, when O reacts with Ti and Mn, some of the N is combined with Ti, as</div>
<div class="l" style="top:606.06px;left:117.30px;word-spacing:0.307px">shown in equation (4) below. After that, TiN starts to nucleate and grow depending on the generated</div>
<div class="l" style="top:626.46px;left:117.30px;word-spacing:1.077px">phase interface of Mn<sub>2</sub>TiO<sub>4</sub>, and finally the combination of the two phases forms the square phase</div>
<div class="l" style="top:646.96px;left:117.30px;word-spacing:1.170px">observed in the present study. and the growth mechanism can be shown schematically in fig 15(c)</div>
<div class="l" style="top:667.46px;left:117.30px">above.</div>
<div class="l" style="top:769.56px;left:145.40px;word-spacing:1.854px">Based on the TEM results, fig. 16(a) shows the strengthening mechanism that occurs in the</div>
<div class="l" style="top:789.96px;left:117.30px;word-spacing:0.112px">sample HNS + TiN after the addition of TiN, on the one hand, the pinning effect of the second phase</div>
<div class="l" style="top:810.46px;left:117.30px;word-spacing:2.621px">(Mn<sub>2</sub>TiO<sub>4</sub>, Mn<sub>2</sub>TiO<sub>4</sub> / TiN) at grain boundaries hinders the dislocation movement, so that more</div>
<div class="l" style="top:830.86px;left:117.30px;word-spacing:1.360px">dislocation slip can be accommodated within the HNS + TiN sample, which leads to a significant</div>
<div class="l" style="top:851.36px;left:117.30px;word-spacing:1.354px">increase in the ductility of the sample HNS + TiN. On the other hand, the presence of the second</div>
<div class="l" style="top:871.76px;left:117.30px;word-spacing:0.111px">phase also provides nucleation sites for grain growth, while the second phase at the grain boundaries</div>
<div class="l" style="top:892.26px;left:117.30px;word-spacing:5.729px">prevents excessive grain growth and achieves the properties of fine-grained reinforcement,</div>
<div class="l" style="top:912.66px;left:117.30px;word-spacing:2.207px">representing a compromise between strength and ductility. Finally, after the addition of TiN, the</div>
<div class="l" style="top:933.16px;left:117.30px;word-spacing:2.253px">grain shape in the HNS + TiN is mainly equiaxed, compared with the presence of larger grains</div>
<div class="l" style="top:953.56px;left:117.30px;word-spacing:1.954px">(columnar crystals) in the HNS, and the decrease in grain size also represents an increase in the</div>
<div class="l" style="top:974.06px;left:117.30px;word-spacing:1.048px">number of grain boundaries, thereby the HNS + TiN can open along further grain boundaries after</div>
<svg style="position:absolute;left:0;top:680px" width="780" height="100" viewBox="0 680 780 100" font-family="Liberation Serif" font-size="14" fill="#1c1c1c" stroke="#1c1c1c" stroke-width="0.3">
<text x="340.4" y="703.0" textLength="18.4" lengthAdjust="spacingAndGlyphs" font-style="italic">Mn</text>
<path d="M366.9 699.4H373.9M370.4 695.9V702.9" stroke="#222" stroke-width="0.95" fill="none"/>
<text x="380.8" y="703.0" textLength="8.1" lengthAdjust="spacingAndGlyphs" font-style="italic">O</text>
<path d="M394.6 699.4H404.2" stroke="#222" stroke-width="0.9" fill="none"/>
<path d="M406.2 699.4L402.0 696.8L403.0 699.4L402.0 702.0Z" fill="#222"/>
<text x="410.8" y="703.0" textLength="28.4" lengthAdjust="spacingAndGlyphs" font-style="italic">MnO</text>
<text x="341.1" y="722.6" textLength="9.7" lengthAdjust="spacingAndGlyphs" font-style="italic">Ti</text>
<path d="M360.5 719.0H367.6M364.1 715.5V722.5" stroke="#222" stroke-width="0.95" fill="none"/>
<text x="376.2" y="722.6" textLength="5.3" lengthAdjust="spacingAndGlyphs">2</text>
<text x="381.6" y="722.6" textLength="7.3" lengthAdjust="spacingAndGlyphs" font-style="italic">O</text>
<path d="M396.9 719.0H405.3" stroke="#222" stroke-width="0.9" fill="none"/>
<path d="M407.3 719.0L403.1 716.4L404.1 719.0L403.1 721.6Z" fill="#222"/>
<text x="411.9" y="722.6" textLength="9.6" lengthAdjust="spacingAndGlyphs">Ti</text>
<text x="422.0" y="722.6" textLength="9.5" lengthAdjust="spacingAndGlyphs" font-style="italic">O</text>
<text x="432.7" y="725.2" textLength="5.8" lengthAdjust="spacingAndGlyphs" font-size="10">2</text>
<text x="309.7" y="742.7" textLength="5.8" lengthAdjust="spacingAndGlyphs">2</text>
<text x="315.8" y="742.7" textLength="29.2" lengthAdjust="spacingAndGlyphs" font-style="italic">MnO</text>
<path d="M354.2 739.1H361.2M357.7 735.6V742.6" stroke="#222" stroke-width="0.95" fill="none"/>
<text x="369.2" y="742.7" textLength="20.8" lengthAdjust="spacingAndGlyphs" font-style="italic">TiO</text>
<text x="390.7" y="745.3000000000001" textLength="5.1" lengthAdjust="spacingAndGlyphs" font-size="10">2</text>
<path d="M401.5 739.1H411.1" stroke="#222" stroke-width="0.9" fill="none"/>
<path d="M413.1 739.1L408.9 736.5L409.9 739.1L408.9 741.7Z" fill="#222"/>
<text x="416.5" y="742.7" textLength="19.7" lengthAdjust="spacingAndGlyphs" font-style="italic">Mn</text>
<text x="436.2" y="745.3000000000001" textLength="5.0" lengthAdjust="spacingAndGlyphs" font-size="10">2</text>
<text x="441.9" y="742.7" textLength="23.1" lengthAdjust="spacingAndGlyphs" font-style="italic">TiO</text>
<text x="465.0" y="745.3000000000001" textLength="5.0" lengthAdjust="spacingAndGlyphs" font-size="10">4</text>
<text x="345.0" y="762.3" textLength="11.5" lengthAdjust="spacingAndGlyphs" font-style="italic">Ti</text>
<path d="M364.6 758.7H371.5M368.1 755.2V762.1" stroke="#222" stroke-width="0.95" fill="none"/>
<text x="379.6" y="762.3" textLength="10.4" lengthAdjust="spacingAndGlyphs" font-style="italic">N</text>
<path d="M396.5 758.7H405.3" stroke="#222" stroke-width="0.9" fill="none"/>
<path d="M407.3 758.7L403.1 756.1L404.1 758.7L403.1 761.3Z" fill="#222"/>
<text x="410.8" y="762.3" textLength="22.6" lengthAdjust="spacingAndGlyphs" font-style="italic">TiN</text>
<text x="643.3" y="702.6" font-size="14.5" textLength="17.4" lengthAdjust="spacingAndGlyphs">(1)</text>
<text x="643.3" y="722.4" font-size="14.5" textLength="17.4" lengthAdjust="spacingAndGlyphs">(2)</text>
<text x="643.3" y="742.4" font-size="14.5" textLength="17.4" lengthAdjust="spacingAndGlyphs">(3)</text>
<text x="643.3" y="762.4" font-size="14.5" textLength="17.4" lengthAdjust="spacingAndGlyphs">(4)</text>
</svg>
<div style="position:absolute;left:0;width:780px;top:1003.40px;text-align:center;font-size:16px;line-height:20px;color:#222;padding-left:0px">20</div>
</div></body></html>
